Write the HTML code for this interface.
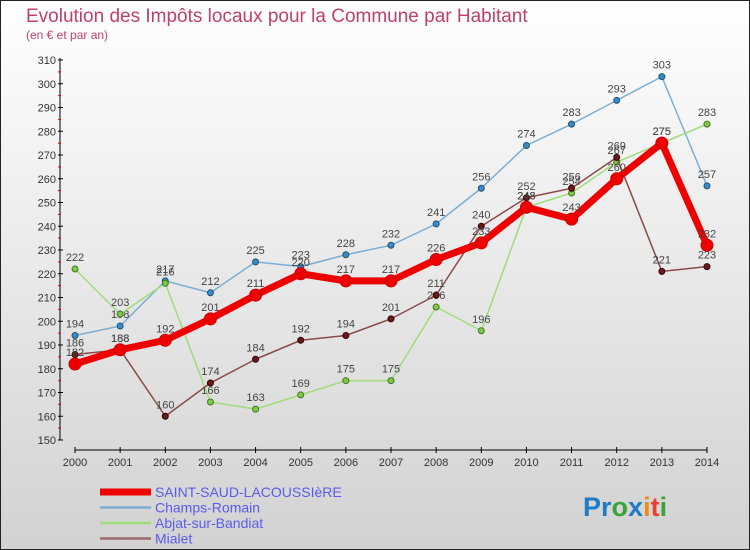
<!DOCTYPE html>
<html><head><meta charset="utf-8"><style>
body{margin:0;width:750px;height:550px;overflow:hidden}
svg{display:block;font-family:"Liberation Sans",sans-serif}
</style></head><body>
<svg width="750" height="550">
<defs><linearGradient id="bg" x1="0" y1="0" x2="0" y2="1"><stop offset="0" stop-color="#ffffff"/><stop offset="1" stop-color="#d2d2d2"/></linearGradient></defs>
<rect x="0.5" y="0.5" width="749" height="549" fill="url(#bg)" stroke="#222"/>
<text x="26" y="22" font-size="19" fill="#c0406a">Evolution des Impôts locaux pour la Commune par Habitant</text>
<text x="26" y="39" font-size="12" fill="#c0406a">(en € et par an)</text>
<g id="axes"></g>
<g id="series"></g>
<g id="legend"></g>
<text x="583" y="516" font-size="27" font-weight="bold"><tspan fill="#1e7bc8">Pr</tspan><tspan fill="#3aa33a">o</tspan><tspan fill="#1e7bc8">x</tspan><tspan fill="#f08a1a">i</tspan><tspan fill="#e8402a">t</tspan><tspan fill="#3aa33a">i</tspan></text>
</svg>
<script>
const years=[2000,2001,2002,2003,2004,2005,2006,2007,2008,2009,2010,2011,2012,2013,2014];
const yTicks=[150,160,170,180,190,200,210,220,230,240,250,260,270,280,290,300,310];
const seriesNames=["SAINT-SAUD-LACOUSSIèRE","Champs-Romain","Abjat-sur-Bandiat","Mialet"];
const saintSaud=[182,188,192,201,211,220,217,217,226,233,248,243,260,275,232];
const champsRomain=[194,198,217,212,225,223,228,232,241,256,274,283,293,303,257];
const abjat=[222,203,216,166,163,169,175,175,206,196,248,254,267,275,283];
const mialet=[186,188,160,174,184,192,194,201,211,240,252,256,269,221,223];
const NS="http://www.w3.org/2000/svg";
const X=i=>75+i*(632/14);
const Y=v=>60+(310-v)*(380/160);
function mk(tag,attrs,parent,txt){const e=document.createElementNS(NS,tag);for(const k in attrs)e.setAttribute(k,attrs[k]);if(txt!==undefined)e.textContent=txt;parent.appendChild(e);return e;}
const axes=document.getElementById('axes');
let a=mk('line',{x1:60,y1:58,x2:60,y2:440,stroke:'#000','stroke-width':1},axes);


a=mk('line',{x1:75,y1:450,x2:707,y2:450,stroke:'#000','stroke-width':1},axes);


yTicks.forEach(v=>{
  mk('line',{x1:58,y1:Y(v),x2:63,y2:Y(v),stroke:'#000'},axes);
  if(v<310)mk('line',{x1:58,y1:Y(v+5),x2:61,y2:Y(v+5),stroke:'#e00'},axes);
  const t=mk('text',{x:56,y:Y(v)+4,'font-size':11,fill:'#333','text-anchor':'end'},axes,v);
  
  
});
years.forEach((y,i)=>{
  mk('line',{x1:X(i),y1:447,x2:X(i),y2:453,stroke:'#000'},axes);
  const t=mk('text',{x:X(i),y:466,'font-size':11,fill:'#333','text-anchor':'middle'},axes,y);
  
  
});
const sg=document.getElementById('series');
function draw(data,color,w,r,dot,name,dotStroke){
  const g=mk('g',{},sg);
  
  
  mk('polyline',{points:data.map((v,i)=>X(i)+','+Y(v)).join(' '),fill:'none',stroke:color,'stroke-width':w,'stroke-linejoin':'round'},g);
  data.forEach((v,i)=>{
    const c=mk('circle',{cx:X(i),cy:Y(v),r:r,fill:dot,stroke:dotStroke,'stroke-width':1},g);
    
    
    const t=mk('text',{x:X(i),y:Y(v)-8,'font-size':11,fill:'#444','text-anchor':'middle'},g,v);
    
    
  });
}
draw(champsRomain,'#7aaed6',1.5,3,'#3a8ad0','champs-romain-series','#256');
draw(abjat,'#9fdc7a',1.5,3,'#7ccc3c','abjat-series','#473');
draw(mialet,'#8a4a4a',1.5,3,'#6a1a1a','mialet-series','#300');
draw(saintSaud,'#ee0000',7,6,'#ee0000','saint-saud-series','#c00');
const lg=document.getElementById('legend');
const lc=['#ee0000','#7aaed6','#9fdc7a','#9a6a6a'],lw=[7,2.5,2.5,2.5];
seriesNames.forEach((n,i)=>{
  const y=492+i*15.5;
  const g=mk('g',{},lg);
  
  
  mk('line',{x1:100,y1:y,x2:151,y2:y,stroke:lc[i],'stroke-width':lw[i]},g);
  mk('text',{x:155,y:y+5,'font-size':14,fill:'#5a5aee'},g,n);
});
</script>
</body></html>
